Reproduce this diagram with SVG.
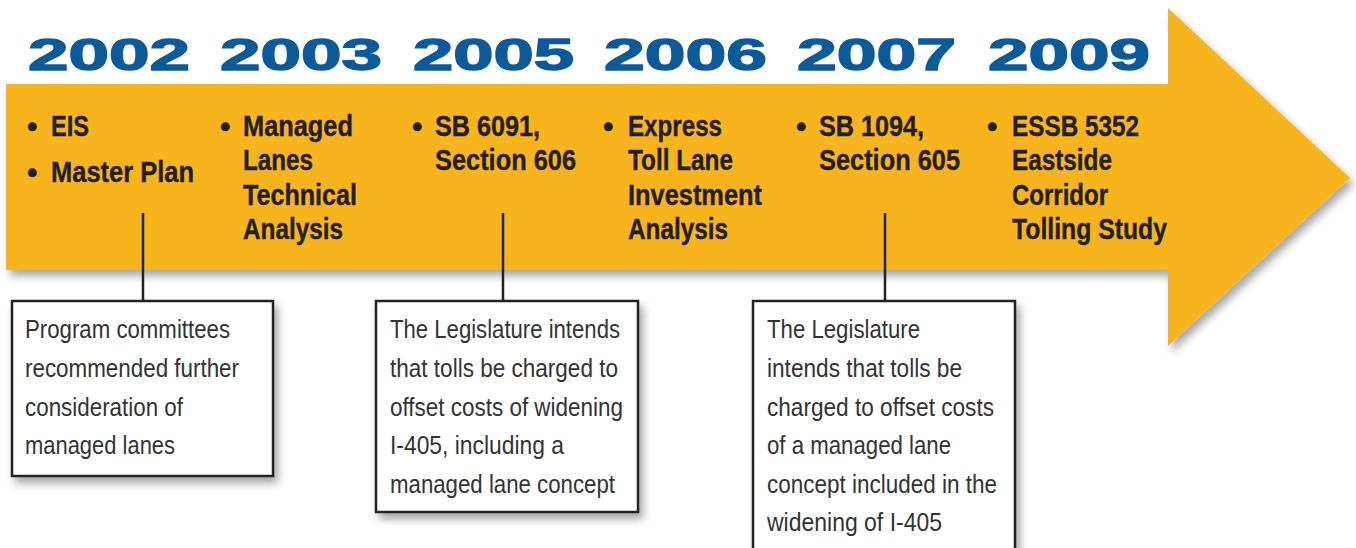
<svg xmlns="http://www.w3.org/2000/svg" width="1356" height="548" viewBox="0 0 1356 548">
<defs>
<filter id="sh" x="-10%" y="-10%" width="130%" height="140%">
<feDropShadow dx="4" dy="6" stdDeviation="4" flood-color="#000" flood-opacity="0.35"/>
</filter>
<style>
.year{font-family:"Liberation Sans",Arial,sans-serif;font-weight:bold;font-size:44px;fill:#0b5a9c;stroke:#0b5a9c;stroke-width:1.4}
.item{font-family:"Liberation Sans",Arial,sans-serif;font-weight:bold;font-size:30px;fill:#231f20;stroke:#231f20;stroke-width:0.4}
.note{font-family:"Liberation Sans",Arial,sans-serif;font-size:25px;fill:#333}
.box{fill:#fff;stroke:#222;stroke-width:2.5}
.conn{stroke:#222;stroke-width:2.5;fill:none}
</style>
</defs>
<rect width="1356" height="548" fill="#fff"/>
<g id="arrow" filter="url(#sh)">
<path d="M6 84 H1168 V8 L1350 178 L1168 346 V270 H6 Z" fill="#f8b41a"/>
</g>
<rect x="6" y="30" width="1162" height="54" fill="#fff"/>
<g id="years">
<text class="year" x="28" y="70" textLength="162" lengthAdjust="spacingAndGlyphs">2002</text>
<text class="year" x="220" y="70" textLength="162" lengthAdjust="spacingAndGlyphs">2003</text>
<text class="year" x="413" y="70" textLength="161" lengthAdjust="spacingAndGlyphs">2005</text>
<text class="year" x="604" y="70" textLength="163" lengthAdjust="spacingAndGlyphs">2006</text>
<text class="year" x="797" y="70" textLength="159" lengthAdjust="spacingAndGlyphs">2007</text>
<text class="year" x="988" y="70" textLength="162" lengthAdjust="spacingAndGlyphs">2009</text>
</g>
<g id="items2002">
<text class="item" x="27" y="137">•</text>
<text class="item" x="51" y="136" textLength="38" lengthAdjust="spacingAndGlyphs">EIS</text>
<text class="item" x="27" y="183">•</text>
<text class="item" x="51" y="182" textLength="143" lengthAdjust="spacingAndGlyphs">Master Plan</text>
</g>
<g id="items2003">
<text class="item" x="220" y="137">•</text>
<text class="item" x="243" y="136" textLength="110" lengthAdjust="spacingAndGlyphs">Managed</text>
<text class="item" x="243" y="170" textLength="70" lengthAdjust="spacingAndGlyphs">Lanes</text>
<text class="item" x="243" y="205" textLength="114" lengthAdjust="spacingAndGlyphs">Technical</text>
<text class="item" x="243" y="239" textLength="100" lengthAdjust="spacingAndGlyphs">Analysis</text>
</g>
<g id="items2005">
<text class="item" x="412" y="137">•</text>
<text class="item" x="435" y="136" textLength="105" lengthAdjust="spacingAndGlyphs">SB 6091,</text>
<text class="item" x="435" y="170" textLength="141" lengthAdjust="spacingAndGlyphs">Section 606</text>
</g>
<g id="items2006">
<text class="item" x="603" y="137">•</text>
<text class="item" x="628" y="136" textLength="94" lengthAdjust="spacingAndGlyphs">Express</text>
<text class="item" x="628" y="170" textLength="105" lengthAdjust="spacingAndGlyphs">Toll Lane</text>
<text class="item" x="628" y="205" textLength="134" lengthAdjust="spacingAndGlyphs">Investment</text>
<text class="item" x="628" y="239" textLength="100" lengthAdjust="spacingAndGlyphs">Analysis</text>
</g>
<g id="items2007">
<text class="item" x="796" y="137">•</text>
<text class="item" x="819" y="136" textLength="105" lengthAdjust="spacingAndGlyphs">SB 1094,</text>
<text class="item" x="819" y="170" textLength="141" lengthAdjust="spacingAndGlyphs">Section 605</text>
</g>
<g id="items2009">
<text class="item" x="987" y="137">•</text>
<text class="item" x="1012" y="136" textLength="127" lengthAdjust="spacingAndGlyphs">ESSB 5352</text>
<text class="item" x="1012" y="170" textLength="100" lengthAdjust="spacingAndGlyphs">Eastside</text>
<text class="item" x="1012" y="205" textLength="96" lengthAdjust="spacingAndGlyphs">Corridor</text>
<text class="item" x="1012" y="239" textLength="155" lengthAdjust="spacingAndGlyphs">Tolling Study</text>
</g>
<g id="connectors">
<line class="conn" x1="143" y1="213" x2="143" y2="301"/>
<line class="conn" x1="503" y1="213" x2="503" y2="301"/>
<line class="conn" x1="885" y1="213" x2="885" y2="301"/>
</g>
<g id="note2002">
<rect class="box" x="12" y="301" width="261" height="175" filter="url(#sh)"/>
<text class="note" x="25" y="338" textLength="205" lengthAdjust="spacingAndGlyphs">Program committees</text>
<text class="note" x="25" y="377" textLength="214" lengthAdjust="spacingAndGlyphs">recommended further</text>
<text class="note" x="25" y="416" textLength="158" lengthAdjust="spacingAndGlyphs">consideration of</text>
<text class="note" x="25" y="454" textLength="150" lengthAdjust="spacingAndGlyphs">managed lanes</text>
</g>
<g id="note2005">
<rect class="box" x="376" y="301" width="262" height="211" filter="url(#sh)"/>
<text class="note" x="390" y="338" textLength="230" lengthAdjust="spacingAndGlyphs">The Legislature intends</text>
<text class="note" x="390" y="377" textLength="228" lengthAdjust="spacingAndGlyphs">that tolls be charged to</text>
<text class="note" x="390" y="416" textLength="233" lengthAdjust="spacingAndGlyphs">offset costs of widening</text>
<text class="note" x="390" y="454" textLength="174" lengthAdjust="spacingAndGlyphs">I-405, including a</text>
<text class="note" x="390" y="493" textLength="225" lengthAdjust="spacingAndGlyphs">managed lane concept</text>
</g>
<g id="note2007">
<rect class="box" x="753" y="301" width="262" height="262" filter="url(#sh)"/>
<text class="note" x="767" y="338" textLength="153" lengthAdjust="spacingAndGlyphs">The Legislature</text>
<text class="note" x="767" y="377" textLength="195" lengthAdjust="spacingAndGlyphs">intends that tolls be</text>
<text class="note" x="767" y="416" textLength="227" lengthAdjust="spacingAndGlyphs">charged to offset costs</text>
<text class="note" x="767" y="454" textLength="184" lengthAdjust="spacingAndGlyphs">of a managed lane</text>
<text class="note" x="767" y="493" textLength="230" lengthAdjust="spacingAndGlyphs">concept included in the</text>
<text class="note" x="767" y="531" textLength="175" lengthAdjust="spacingAndGlyphs">widening of I-405</text>
</g>
</svg>
